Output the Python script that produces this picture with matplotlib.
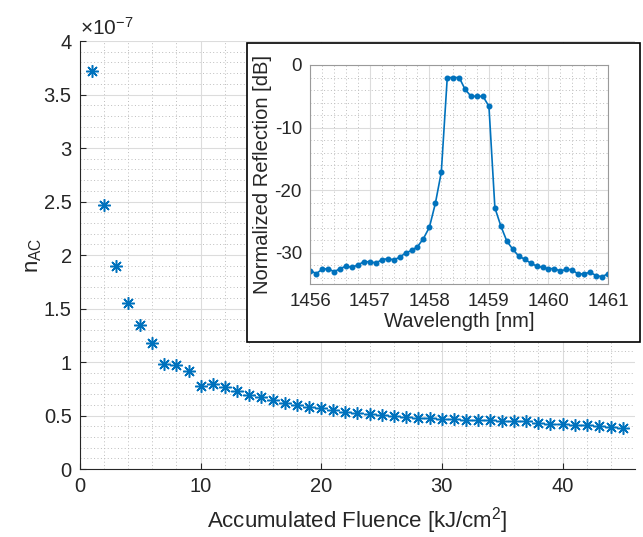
import matplotlib
matplotlib.use("Agg")
import matplotlib.pyplot as plt
from matplotlib.patches import Rectangle
from matplotlib.ticker import MultipleLocator, FuncFormatter

plt.rcParams["font.family"] = ["Liberation Sans", "DejaVu Sans"]
plt.rcParams["mathtext.fontset"] = "custom"
plt.rcParams["mathtext.rm"] = "Liberation Sans"
plt.rcParams["mathtext.it"] = "Liberation Sans:italic"
plt.rcParams["mathtext.default"] = "regular"
plt.rcParams["axes.unicode_minus"] = False

# main plot: n_AC vs accumulated fluence
fluence = list(range(1, 46))
n_ac = [
    3.72, 2.47, 1.90, 1.555, 1.35, 1.18, 0.98, 0.97, 0.915, 0.772,
    0.793, 0.764, 0.732, 0.695, 0.671, 0.642, 0.621, 0.594, 0.584, 0.571,
    0.553, 0.532, 0.522, 0.516, 0.506, 0.497, 0.485, 0.476, 0.476, 0.466,
    0.466, 0.460, 0.460, 0.460, 0.451, 0.451, 0.451, 0.430, 0.423, 0.423,
    0.414, 0.414, 0.399, 0.392, 0.380,
]
n_ac = [v * 1e-7 for v in n_ac]

# inset: reflection spectrum
wavelength = [1456.0 + 0.1 * i for i in range(51)]
reflection = [
    -32.8, -33.3, -32.6, -32.5, -33.0, -32.5, -32.1, -32.3, -31.9, -31.4,
    -31.4, -31.6, -31.1, -30.9, -31.1, -30.7, -30.0, -29.6, -29.0, -27.7,
    -25.9, -22.1, -17.1, -2.0, -2.0, -2.0, -3.9, -5.0, -5.0, -5.0,
    -6.6, -22.8, -25.7, -28.1, -29.4, -30.5, -31.0, -31.6, -32.1, -32.3,
    -32.5, -32.5, -32.9, -32.6, -32.7, -33.4, -33.3, -33.1, -33.6, -33.8,
    -33.3,
]

blue = "#0072BD"
txt = "#262626"
asterisk = (8, 2, 0)


def matlab_grid(ax):
    ax.grid(True, which="major", color="#dcdcdc", lw=0.8, ls="-")
    ax.grid(True, which="minor", color="#bdbdbd", lw=0.7, ls=(0, (1, 2.5)))
    ax.set_axisbelow(True)
    ax.tick_params(which="both", direction="in", colors=txt, labelcolor=txt)
    ax.tick_params(which="minor", length=0)
    for s in ax.spines.values():
        s.set_color("#262626")
        s.set_linewidth(0.8)


fig = plt.figure(figsize=(6.43, 5.37), dpi=100)
ax = fig.add_axes([0.1244, 0.1266, 0.863, 0.797])
ax.plot(fluence, n_ac, ls="none", marker=asterisk, ms=9, mew=1.1, color=blue)
ax.set_xlim(0, 46)
ax.set_ylim(0, 4e-7)
ax.xaxis.set_major_locator(MultipleLocator(10))
ax.xaxis.set_minor_locator(MultipleLocator(2))
ax.yaxis.set_major_locator(MultipleLocator(0.5e-7))
ax.yaxis.set_minor_locator(MultipleLocator(0.1e-7))
ax.yaxis.set_major_formatter(FuncFormatter(lambda v, p: f"{v * 1e7:g}"))
matlab_grid(ax)
ax.spines["top"].set_visible(False)
ax.spines["right"].set_visible(False)
ax.tick_params(which="major", length=4, labelsize=14.5, pad=6)
ax.text(0.0, 1.006, r"$\times10^{-7}$", transform=ax.transAxes,
        fontsize=15, color=txt, ha="left", va="bottom")
ax.set_xlabel(r"Accumulated Fluence [kJ/cm$^2$]", fontsize=16, color=txt, labelpad=6)
ax.set_ylabel(r"n$_{AC}$", fontsize=16, color=txt, labelpad=0)

# white framed box holding the inset
fig.add_artist(Rectangle((0.3846, 0.3637), 0.6107, 0.5568, transform=fig.transFigure,
                         facecolor="white", edgecolor="black", lw=1.2, zorder=2))

axi = fig.add_axes([0.4826, 0.4706, 0.463, 0.4084], zorder=3)
axi.plot(wavelength, reflection, color=blue, lw=1.2, marker="o", ms=3.3)
axi.set_xlim(1456, 1461)
axi.set_ylim(-35, 0)
axi.xaxis.set_major_locator(MultipleLocator(1))
axi.xaxis.set_minor_locator(MultipleLocator(0.2))
axi.yaxis.set_major_locator(MultipleLocator(10))
axi.yaxis.set_minor_locator(MultipleLocator(2))
axi.xaxis.set_major_formatter(FuncFormatter(lambda v, p: f"{v:g}"))
matlab_grid(axi)
axi.tick_params(which="major", length=0, labelsize=13.5, pad=6)
for s in axi.spines.values():
    s.set_color("#9a9a9a")
axi.set_xlabel("Wavelength [nm]", fontsize=14.5, color=txt, labelpad=2)
axi.set_ylabel("Normalized Reflection [dB]", fontsize=14.5, color=txt, labelpad=2)

fig.savefig("out.png", dpi=100)
